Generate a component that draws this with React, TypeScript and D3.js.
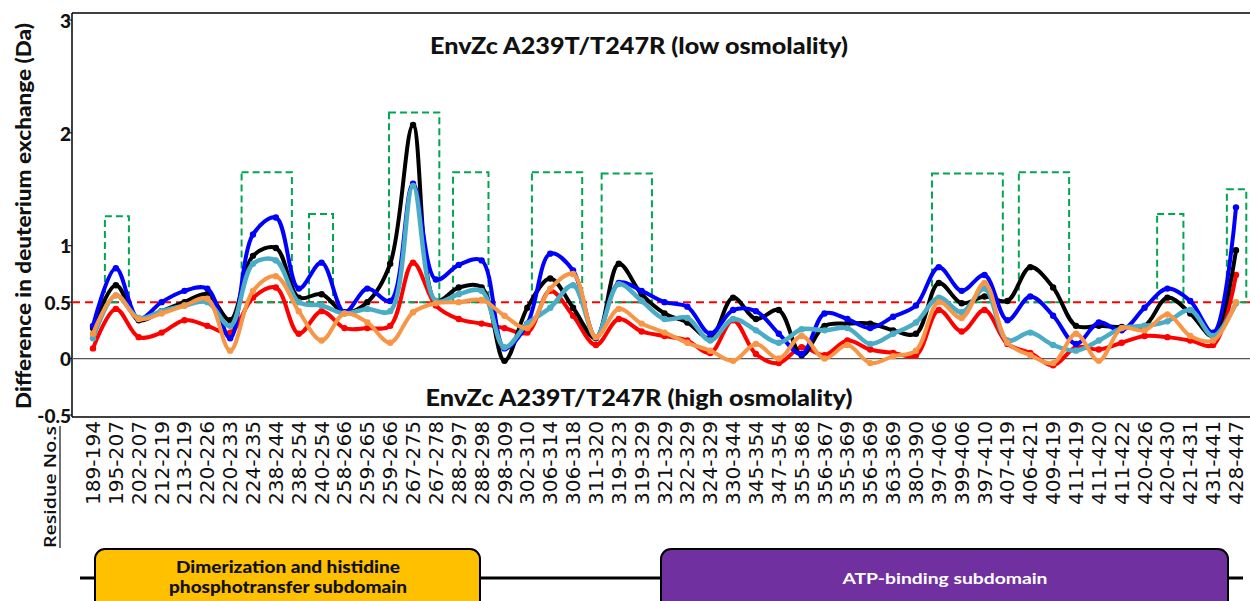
import React from "react";
import * as d3 from "d3";

// Category (peptide) labels
const residues = [
  "189-194", "195-207", "202-207", "212-219", "213-219", "220-226", "220-233", "224-235",
  "238-244", "238-254", "240-254", "258-266", "259-265", "259-266", "267-275", "267-278",
  "288-297", "288-298", "298-309", "302-310", "306-314", "306-318", "311-320", "319-323",
  "319-329", "321-329", "322-329", "324-329", "330-344", "345-354", "347-354", "355-368",
  "356-367", "355-369", "356-369", "363-369", "380-390", "397-406", "399-406", "397-410",
  "407-419", "406-421", "409-419", "411-419", "411-420", "411-422", "420-426", "420-430",
  "421-431", "431-441", "428-447",
];

// Difference in deuterium exchange (Da)
const blueSeries = [
  0.29, 0.8, 0.35, 0.5, 0.6, 0.62, 0.18, 1.1, 1.25, 0.62,
  0.85, 0.41, 0.62, 0.51, 1.55, 0.7, 0.83, 0.87, 0.09, 0.31,
  0.93, 0.78, 0.19, 0.67, 0.6, 0.5, 0.46, 0.22, 0.43, 0.42,
  0.22, 0.04, 0.4, 0.35, 0.27, 0.37, 0.47, 0.81, 0.6, 0.74,
  0.34, 0.55, 0.38, 0.13, 0.32, 0.25, 0.45, 0.62, 0.51, 0.23,
  1.34,
];
const blackSeries = [
  0.27, 0.65, 0.34, 0.42, 0.5, 0.57, 0.34, 0.91, 0.98, 0.54,
  0.57, 0.41, 0.5, 0.84, 2.07, 0.51, 0.63, 0.63, -0.02, 0.45,
  0.71, 0.45, 0.18, 0.84, 0.57, 0.4, 0.32, 0.18, 0.54, 0.35,
  0.43, 0.03, 0.29, 0.31, 0.31, 0.25, 0.22, 0.67, 0.49, 0.55,
  0.51, 0.81, 0.63, 0.29, 0.29, 0.28, 0.29, 0.54, 0.4, 0.2,
  0.96,
];
const tealSeries = [
  0.18, 0.56, 0.36, 0.42, 0.47, 0.5, 0.29, 0.84, 0.87, 0.5,
  0.47, 0.4, 0.44, 0.42, 1.53, 0.51, 0.57, 0.6, 0.1, 0.31,
  0.45, 0.65, 0.19, 0.66, 0.51, 0.35, 0.36, 0.16, 0.35, 0.25,
  0.14, 0.26, 0.25, 0.27, 0.13, 0.22, 0.32, 0.54, 0.41, 0.62,
  0.16, 0.23, 0.12, 0.07, 0.16, 0.27, 0.29, 0.33, 0.43, 0.2,
  0.49,
];
const orangeSeries = [
  0.22, 0.56, 0.35, 0.4, 0.47, 0.53, 0.07, 0.6, 0.73, 0.42,
  0.16, 0.4, 0.32, 0.14, 0.41, 0.49, 0.5, 0.52, 0.38, 0.27,
  0.62, 0.75, 0.19, 0.44, 0.31, 0.23, 0.14, 0.07, -0.02, 0.13,
  0.0, 0.2, 0.0, 0.12, -0.04, 0.02, 0.07, 0.5, 0.36, 0.67,
  0.14, 0.03, -0.04, 0.22, -0.02, 0.27, 0.25, 0.39, 0.2, 0.16,
  0.5,
];
const redSeries = [
  0.09, 0.44, 0.19, 0.23, 0.34, 0.29, 0.23, 0.54, 0.63, 0.22,
  0.42, 0.27, 0.27, 0.29, 0.85, 0.47, 0.35, 0.31, 0.27, 0.23,
  0.6, 0.38, 0.12, 0.35, 0.24, 0.2, 0.16, 0.05, 0.34, 0.04,
  -0.04, 0.1, 0.03, 0.16, 0.08, 0.05, 0.03, 0.43, 0.24, 0.43,
  0.13, 0.05, -0.06, 0.1, 0.08, 0.14, 0.2, 0.19, 0.16, 0.12,
  0.74,
];

const yTicks = [3, 2, 1, 0.5, 0, -0.5];
const threshold = 0.5;

// highlighted regions: start / end in category units, top value (Da)
const boxStarts = [0.52, 6.5, 9.45, 12.95, 15.75, 19.2, 22.25, 36.7, 40.5, 46.55, 49.6];
const boxEnds = [1.57, 8.7, 10.5, 15.15, 17.3, 21.4, 24.45, 39.8, 42.7, 47.7, 50.45];
const boxTops = [1.26, 1.65, 1.28, 2.18, 1.65, 1.65, 1.64, 1.64, 1.65, 1.28, 1.5];

const seriesList = [
  { name: "red", values: redSeries, color: "#FF0000", width: 4 },
  { name: "black", values: blackSeries, color: "#000000", width: 4 },
  { name: "blue", values: blueSeries, color: "#0000FF", width: 4 },
  { name: "teal", values: tealSeries, color: "#4BACC6", width: 4.5 },
  { name: "orange", values: orangeSeries, color: "#F79646", width: 4 },
];

export default function App() {
  const W = 1250;
  const H = 601;
  const left = 72;
  const right = 1250;
  const top = 13;
  const bottom = 417;

  const x = d3.scaleLinear().domain([0, residues.length - 1]).range([93, 1236]);
  const y = d3.scaleLinear().domain([-0.5, 3]).range([415, 20]);

  const line = d3
    .line<number>()
    .x((_, i) => x(i))
    .y((d) => y(d))
    .curve(d3.curveCatmullRom.alpha(0.5));

  const boldFont = "Lato, 'Open Sans', sans-serif";

  return (
    <div style={{ position: "fixed", left: 0, top: 0, width: W, height: H, background: "#fff" }}>
      <svg width={W} height={H} style={{ display: "block" }}>
        <rect x={0} y={0} width={W} height={H} fill="#fff" />

        {/* frame */}
        <line x1={left} x2={right} y1={top} y2={top} stroke="#000" strokeWidth={1.5} />
        <line x1={left} x2={right} y1={bottom} y2={bottom} stroke="#000" strokeWidth={1.5} />
        <line x1={left} x2={left} y1={top} y2={bottom} stroke="#000" strokeWidth={1.5} />
        {/* zero line */}
        <line x1={left} x2={right} y1={y(0)} y2={y(0)} stroke="#555" strokeWidth={1.3} />

        {/* y ticks */}
        {yTicks.map((t) => (
          <g key={t}>
            <line x1={left - 4} x2={left} y1={y(t)} y2={y(t)} stroke="#000" strokeWidth={1} />
            <text
              x={71}
              y={y(t) + 1}
              dy="0.35em"
              textAnchor="end"
              fontFamily={boldFont}
              fontWeight="900"
              fontSize={19}
              fill="#111"
            >
              {t}
            </text>
          </g>
        ))}

        {/* y title */}
        <text
          transform={`translate(31, 216) rotate(-90)`}
          textAnchor="middle"
          fontFamily={boldFont}
          fontWeight="900"
          fontSize={21}
          textLength={386}
          lengthAdjust="spacingAndGlyphs"
          fill="#111"
        >
          Difference in deuterium exchange (Da)
        </text>

        {/* titles */}
        <text
          x={639}
          y={54}
          textAnchor="middle"
          fontFamily={boldFont}
          fontWeight="900"
          fontSize={22}
          textLength={418}
          lengthAdjust="spacingAndGlyphs"
          fill="#111"
        >
          EnvZc A239T/T247R (low osmolality)
        </text>
        <text
          x={639}
          y={406}
          textAnchor="middle"
          fontFamily={boldFont}
          fontWeight="900"
          fontSize={22}
          textLength={427}
          lengthAdjust="spacingAndGlyphs"
          fill="#111"
        >
          EnvZc A239T/T247R (high osmolality)
        </text>

        {/* threshold line */}
        <line
          x1={left}
          x2={right}
          y1={y(threshold)}
          y2={y(threshold)}
          stroke="#FF0000"
          strokeWidth={2}
          strokeDasharray="8 5"
        />

        {/* highlighted boxes */}
        {boxStarts.map((s, i) => (
          <rect
            key={i}
            x={x(s)}
            y={y(boxTops[i])}
            width={x(boxEnds[i]) - x(s)}
            height={y(threshold) - y(boxTops[i])}
            fill="none"
            stroke="#00A651"
            strokeWidth={2}
            strokeDasharray="7 4"
          />
        ))}

        {/* series */}
        {seriesList.map((s) => (
          <g key={s.name}>
            <path
              d={line(s.values) || ""}
              fill="none"
              stroke={s.color}
              strokeWidth={s.width}
              strokeLinejoin="round"
              strokeLinecap="round"
            />
            {s.values.map((v, i) => (
              <circle key={i} cx={x(i)} cy={y(v)} r={3.2} fill={s.color} />
            ))}
          </g>
        ))}

        {/* category labels */}
        {residues.map((r, i) => (
          <text
            key={r}
            transform={`translate(${x(i)}, 421) rotate(-90)`}
            dy="0.36em"
            textAnchor="end"
            fontFamily="'DejaVu Sans', sans-serif"
            fontSize={19.5}
            textLength={84}
            lengthAdjust="spacingAndGlyphs"
            fill="#111"
          >
            {r}
          </text>
        ))}

        {/* Residue No.s */}
        <text
          transform={`translate(56, 548) rotate(-90)`}
          textAnchor="start"
          fontFamily="'Open Sans', sans-serif"
          fontWeight="600"
          fontSize={17}
          textLength={122}
          lengthAdjust="spacingAndGlyphs"
          fill="#111"
        >
          Residue No.s
        </text>
        <line x1={60} x2={60} y1={426} y2={548} stroke="#111" strokeWidth={1.2} />

        {/* domain bar */}
        <line x1={80} x2={1243} y1={578} y2={578} stroke="#000" strokeWidth={3} />
        <rect x={95} y={549} width={385} height={70} rx={10} fill="#FFC000" stroke="#000" strokeWidth={2} />
        <text
          x={288}
          y={573}
          textAnchor="middle"
          fontFamily={boldFont}
          fontWeight="900"
          fontSize={16}
          textLength={224}
          lengthAdjust="spacingAndGlyphs"
          fill="#111"
        >
          Dimerization and histidine
        </text>
        <text
          x={288}
          y={593}
          textAnchor="middle"
          fontFamily={boldFont}
          fontWeight="900"
          fontSize={16}
          textLength={238}
          lengthAdjust="spacingAndGlyphs"
          fill="#111"
        >
          phosphotransfer subdomain
        </text>
        <rect x={661} y={549} width={567} height={70} rx={10} fill="#7030A0" stroke="#000" strokeWidth={2} />
        <text
          x={945}
          y={584}
          textAnchor="middle"
          fontFamily={boldFont}
          fontWeight="bold"
          fontSize={16}
          textLength={205}
          lengthAdjust="spacingAndGlyphs"
          fill="#fff"
        >
          ATP-binding subdomain
        </text>
      </svg>
    </div>
  );
}
